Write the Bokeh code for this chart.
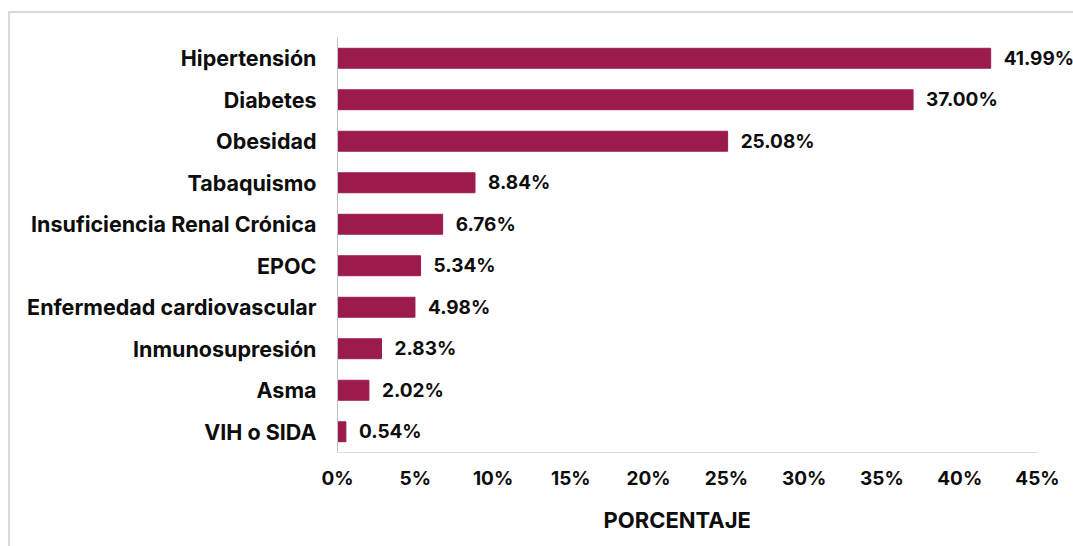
from bokeh.plotting import figure
from bokeh.models import (ColumnDataSource, FactorRange, Range1d, FixedTicker,
                          PrintfTickFormatter, InlineStyleSheet, Title)
from bokeh.core.properties import value
from bokeh.embed import file_html
from bokeh.resources import INLINE

categories = ["Hipertensión", "Diabetes", "Obesidad", "Tabaquismo",
              "Insuficiencia Renal Crónica", "EPOC", "Enfermedad cardiovascular",
              "Inmunosupresión", "Asma", "VIH o SIDA"]
values = [41.99, 37.00, 25.08, 8.84, 6.76, 5.34, 4.98, 2.83, 2.02, 0.54]
x_ticks = [0, 5, 10, 15, 20, 25, 30, 35, 40, 45]
x_title = "PORCENTAJE"

FONT = "Inter"
BAR = "#9B1B4D"
TXT = "#0d0d0d"
AXIS = "#BFBFBF"

# frame runs from x=337 to the right edge (1073); the 45% tick sits at x=1037
FRAME_W = 1073 - 337
AXIS_W = 1037 - 337
x_max = x_ticks[-1]
x_end = x_max * FRAME_W / AXIS_W

src = ColumnDataSource(dict(cat=categories, val=values,
                            lab=["%.2f%%" % v for v in values]))

p = figure(width=1073, height=546, output_backend="svg", toolbar_location=None,
           y_range=FactorRange(factors=categories[::-1], range_padding=0),
           x_range=Range1d(0, x_end),
           min_border_left=337, min_border_top=37, min_border_right=0, min_border_bottom=94)

p.hbar(y="cat", right="val", left=0, height=0.48, source=src, color=BAR)
p.text(x="val", y="cat", text="lab", source=src, x_offset=13,
       text_baseline="middle", text_align="left",
       text_font=value(FONT), text_font_style="bold", text_font_size="19px",
       text_color=TXT)

# bottom axis line only up to the last tick (45%)
p.segment(x0=[0], x1=[x_max], y0=[0], y1=[0], line_color=AXIS, line_width=1)

p.xgrid.visible = False
p.ygrid.visible = False
p.outline_line_color = None

for ax in (p.xaxis[0], p.yaxis[0]):
    ax.axis_line_color = AXIS
    ax.axis_line_width = 1
    ax.major_tick_line_color = None
    ax.minor_tick_line_color = None
    ax.major_label_text_font = FONT
    ax.major_label_text_font_style = "bold"
    ax.major_label_text_color = TXT
p.xaxis.axis_line_color = None

p.xaxis.major_label_text_font_size = "19px"
p.yaxis.major_label_text_font_size = "21.5px"
p.xaxis.ticker = FixedTicker(ticks=x_ticks)
p.xaxis.formatter = PrintfTickFormatter(format="%d%%")
p.xaxis.major_label_standoff = 8
p.yaxis.major_label_standoff = 15

title = Title(text=x_title, align="left", offset=266, standoff=25,
              text_font=FONT, text_font_style="bold", text_font_size="22px",
              text_color=TXT)
p.add_layout(title, "below")

p.stylesheets = [InlineStyleSheet(css=""":host::before {
  content: ''; position: absolute; left: 8px; top: 11px; right: -20px; bottom: -20px;
  border-top: 2px solid #D9D9D9; border-left: 2px solid #D9D9D9;
  pointer-events: none; z-index: 5;
}""")]

open("out.html", "w").write(file_html(p, INLINE))
